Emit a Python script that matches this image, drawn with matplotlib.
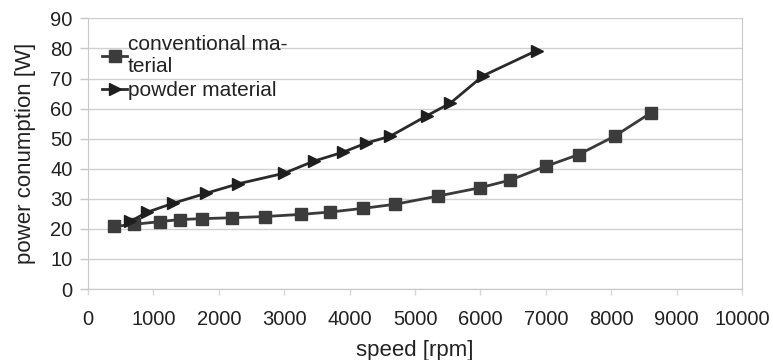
import matplotlib
matplotlib.use("Agg")
import matplotlib.pyplot as plt

conv_speed = [400, 700, 1100, 1400, 1750, 2200, 2700, 3250, 3700, 4200, 4700, 5350, 6000, 6450, 7000, 7500, 8050, 8600]
conv_power = [20.8, 21.5, 22.4, 23.1, 23.4, 23.7, 24.1, 24.8, 25.6, 26.8, 28.2, 30.9, 33.7, 36.2, 40.8, 44.7, 50.8, 58.5]

powd_speed = [650, 900, 1300, 1800, 2300, 3000, 3450, 3900, 4250, 4620, 5180, 5540, 6040, 6860]
powd_power = [22.5, 25.5, 28.5, 31.8, 35.0, 38.5, 42.5, 45.5, 48.5, 50.8, 57.6, 61.8, 70.9, 79.3]

x_ticks = list(range(0, 10001, 1000))
y_ticks = list(range(0, 91, 10))

plt.rcParams['font.family'] = ['Liberation Sans', 'DejaVu Sans']
fig = plt.figure(figsize=(7.73, 3.6), dpi=100)
ax = fig.add_axes([0.1138, 0.1972, 0.8462, 0.7518])

ax.plot(conv_speed, conv_power, color='#3a3a3a', lw=2, marker='s', ms=9,
        mfc='#3c3c3c', mec='#3c3c3c', label='conventional ma-\nterial', zorder=3)
ax.plot(powd_speed, powd_power, color='#2a2a2a', lw=2, marker='>', ms=9,
        mfc='#1e1e1e', mec='#1e1e1e', label='powder material', zorder=3)

ax.set_xlim(0, 10000)
ax.set_ylim(0, 90)
ax.set_xticks(x_ticks)
ax.set_yticks(y_ticks)
ax.tick_params(axis='x', labelsize=14.5, colors='#d8d8d8', labelcolor='#222222', length=4, width=1, pad=11)
ax.tick_params(axis='y', labelsize=14.5, colors='#c8c8c8', labelcolor='#222222', length=6, width=1, pad=5)
ax.grid(axis='y', color='#d0d0d0', lw=1)
ax.set_axisbelow(True)
for s in ['left', 'bottom', 'right']:
    ax.spines[s].set_color('#c8c8c8')
ax.spines['top'].set_visible(False)

ax.set_xlabel('speed [rpm]', fontsize=16, color='#222222', labelpad=8)
ax.set_ylabel('power conumption [W]', fontsize=16, color='#222222', labelpad=10)

leg = ax.legend(loc='upper left', bbox_to_anchor=(0.003, 0.985), frameon=False, fontsize=15,
                handlelength=1.2, handletextpad=0.02, labelspacing=0.25, borderaxespad=0.2,
                markerscale=0.9, labelcolor='#222222')

fig.savefig('out.png', dpi=100)
